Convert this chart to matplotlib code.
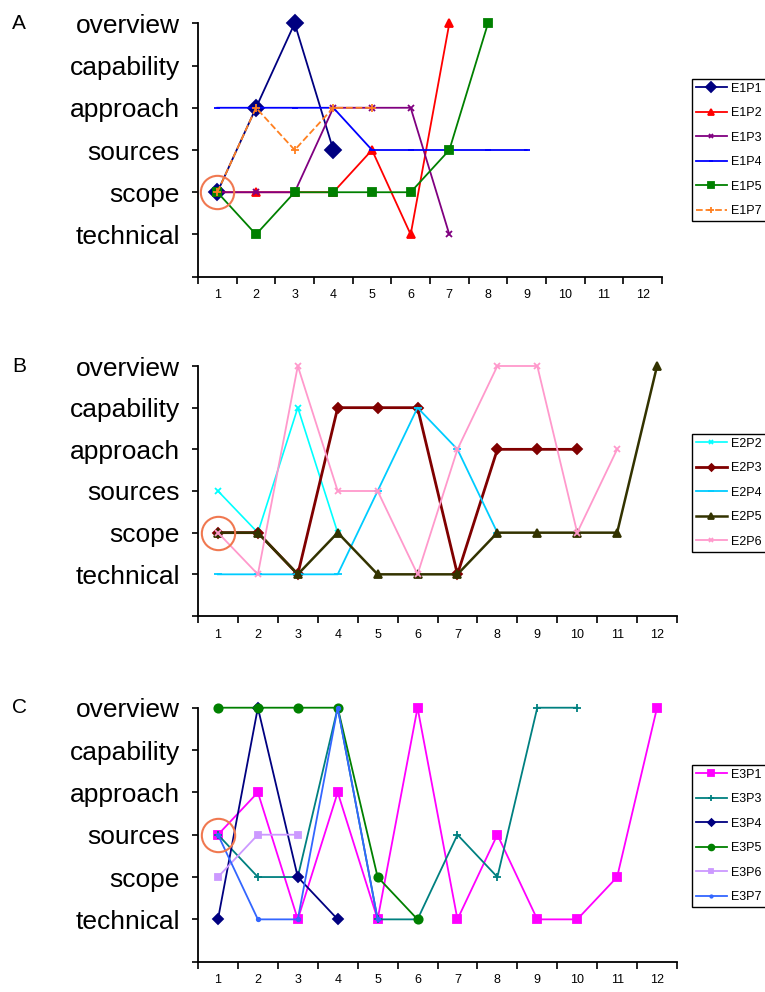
import numpy as np
import matplotlib.pyplot as plt

plt.rcParams['font.family'] = ['Liberation Sans', 'DejaVu Sans']

# level names (1 = technical ... 6 = overview), 0 left blank
levels = ['', 'technical', 'scope', 'sources', 'approach', 'capability', 'overview']
cats = list(range(1, 13))

# panel A
E1P1 = [2, 4, 6, 3]
E1P2 = [2, 2, 2, 2, 3, 1, 6]
E1P3 = [2, 2, 2, 4, 4, 4, 1]
E1P4 = [4, 4, 4, 4, 3, 3, 3, 3, 3]
E1P5 = [2, 1, 2, 2, 2, 2, 3, 6]
E1P7 = [2, 4, 3, 4, 4]

# panel B
E2P2 = [3, 2, 5, 2]
E2P3 = [2, 2, 1, 5, 5, 5, 1, 4, 4, 4]
E2P4 = [1, 1, 1, 1, 3, 5, 4, 2]
E2P5 = [2, 2, 1, 2, 1, 1, 1, 2, 2, 2, 2, 6]
E2P6 = [2, 1, 6, 3, 3, 1, 4, 6, 6, 2, 4]

# panel C
E3P1 = [3, 4, 1, 4, 1, 6, 1, 3, 1, 1, 2, 6]
E3P3 = [3, 2, 2, 6, 1, 1, 3, 2, 6, 6]
E3P4 = [1, 6, 2, 1]
E3P5 = [6, 6, 6, 6, 2, 1]
E3P6 = [2, 3, 3]
E3P7 = [3, 1, 1, 6, 1]

# (label, values, color, marker, markersize, linewidth, linestyle)
panel_a = [
    ('E1P1', E1P1, '#000080', 'D', 8, 1.3, '-'),
    ('E1P2', E1P2, '#FF0000', '^', 6, 1.3, '-'),
    ('E1P3', E1P3, '#800080', 'x', 5, 1.3, '-'),
    ('E1P4', E1P4, '#0000FF', '_', 5, 1.3, '-'),
    ('E1P5', E1P5, '#008000', 's', 6, 1.3, '-'),
    ('E1P7', E1P7, '#FF8020', '+', 6, 1.3, '--'),
]
panel_b = [
    ('E2P2', E2P2, '#00FFFF', 'x', 5, 1.2, '-'),
    ('E2P3', E2P3, '#800000', 'D', 5, 2.0, '-'),
    ('E2P4', E2P4, '#00CCFF', '_', 6, 1.3, '-'),
    ('E2P5', E2P5, '#333300', '^', 6, 1.8, '-'),
    ('E2P6', E2P6, '#FF99CC', 'x', 5, 1.3, '-'),
]
panel_c = [
    ('E3P1', E3P1, '#FF00FF', 's', 6, 1.3, '-'),
    ('E3P3', E3P3, '#008080', '+', 6, 1.3, '-'),
    ('E3P4', E3P4, '#000080', 'D', 5, 1.3, '-'),
    ('E3P5', E3P5, '#008000', 'o', 6, 1.3, '-'),
    ('E3P6', E3P6, '#CC99FF', 's', 5, 1.3, '-'),
    ('E3P7', E3P7, '#3366FF', '.', 5, 1.3, '-'),
]

W, H = 765, 992
fig = plt.figure(figsize=(W / 100, H / 100), dpi=100)

# (letter, series, circle pos, axes rect px [left, top, right, bottom], legend top px)
panels = [
    ('A', panel_a, (1, 2), (198, 23.3, 662, 276.7), 79),
    ('B', panel_b, (1, 2), (198, 366, 677, 616), 434),
    ('C', panel_c, (1, 3), (198, 707.7, 677, 961.7), 765),
]

for letter, series, circ, (l, t, r, b), leg_top in panels:
    ax = fig.add_axes([l / W, 1 - b / H, (r - l) / W, (b - t) / H])
    for lab, vals, col, mk, ms, lw, ls in series:
        ax.plot(cats[:len(vals)], vals, color=col, marker=mk, markersize=ms,
                linewidth=lw, linestyle=ls, markeredgewidth=1.3, label=lab,
                clip_on=False, zorder=3)
    # highlight circle
    ax.plot([circ[0]], [circ[1]], marker='o', markersize=24, mfc='none',
            mec='#F07850', mew=1.5, linestyle='none', clip_on=False, zorder=4)

    ax.set_xlim(0.5, 12.5)
    ax.set_ylim(0, 6)
    ax.set_xticks(np.arange(0.5, 13, 1))
    ax.set_xticklabels([])
    ax.set_xticks(cats, minor=True)
    ax.set_xticklabels([str(c) for c in cats], minor=True, fontsize=9)
    ax.tick_params(axis='x', which='major', direction='out', length=5, width=1.2)
    ax.tick_params(axis='x', which='minor', length=0, pad=9)
    ax.set_yticks(range(7))
    ax.set_yticklabels(levels, fontsize=19)
    ax.tick_params(axis='y', direction='out', length=4, width=1.2, pad=9)
    for s in ['top', 'right']:
        ax.spines[s].set_visible(False)
    for s in ['left', 'bottom']:
        ax.spines[s].set_linewidth(1.3)

    fig.text(12 / W, 1 - t / H, letter, fontsize=15, va='center', ha='left')

    handles, labels = ax.get_legend_handles_labels()
    leg = fig.legend(handles[:len(series)], labels[:len(series)],
                     loc='upper left', bbox_to_anchor=(692 / W, 1 - leg_top / H, 0.2, 0),
                     mode='expand', borderaxespad=0, fontsize=9, handlelength=2.5,
                     handletextpad=0.3, borderpad=0.3, markerscale=0.7,
                     labelspacing=1.0, fancybox=False, framealpha=1,
                     edgecolor='black')
    leg.get_frame().set_linewidth(1.0)

fig.savefig('out.png', dpi=100)
